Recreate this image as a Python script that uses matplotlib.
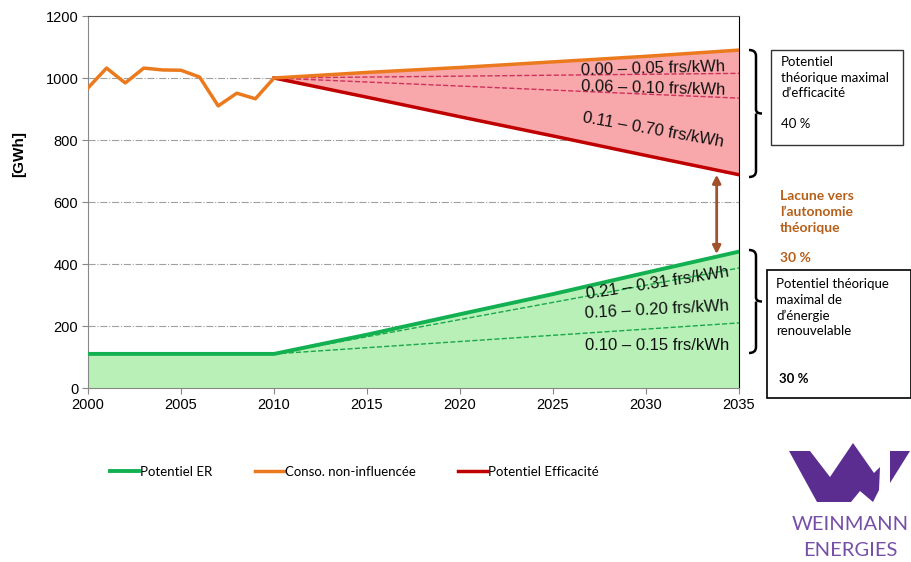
import matplotlib
matplotlib.use('Agg')
import matplotlib.pyplot as plt
from matplotlib.patches import Polygon, Rectangle
from matplotlib.path import Path
from matplotlib.patches import PathPatch

# historical consumption 2000-2010
hist_years = list(range(2000, 2011))
hist_conso = [968, 1032, 984, 1032, 1026, 1025, 1003, 910, 951, 933, 1000]

# scenario 2010-2035
proj_years = [2010, 2015, 2020, 2025, 2030, 2035]
conso_proj = [1000, 1018, 1034, 1052, 1070, 1090]
eff_proj = [1000, 938, 875, 813, 750, 688]
eff_dash1 = [1000, 1015]
eff_dash2 = [1000, 935]

er_years = [2000, 2010, 2015, 2020, 2025, 2030, 2035]
er_proj = [110, 110, 172, 238, 303, 372, 440]
er_dash1 = [110, 387]
er_dash2 = [110, 210]
dash_years = [2010, 2035]

W, H = 912, 562
fig = plt.figure(figsize=(W / 100, H / 100), dpi=100)
ax = fig.add_axes([88 / W, 1 - 388 / H, (739 - 88) / W, (388 - 16) / H])

def px(x, y):
    return (x / W, 1 - y / H)

ax.fill_between(er_years, 0, er_proj, color='#b8f0b8', lw=0, zorder=1)
ax.fill_between(proj_years, eff_proj, conso_proj, color='#f8a7ab', lw=0, zorder=1)

for yv in [200, 400, 600, 800, 1000]:
    ax.axhline(yv, color='#a0a0a0', lw=0.8, ls='-.', zorder=0.5)

ax.plot(dash_years, eff_dash1, color='#d0305a', lw=1, ls='--', zorder=2)
ax.plot(dash_years, eff_dash2, color='#d0305a', lw=1, ls='--', zorder=2)
ax.plot(dash_years, er_dash1, color='#1aa84a', lw=1, ls='--', zorder=2)
ax.plot(dash_years, er_dash2, color='#1aa84a', lw=1, ls='--', zorder=2)

l_er, = ax.plot(er_years, er_proj, color='#12b050', lw=2.8, zorder=3)
l_co, = ax.plot(hist_years + proj_years[1:], hist_conso + conso_proj[1:],
                color='#eb7a1e', lw=2.5, zorder=4)
l_ef, = ax.plot(proj_years, eff_proj, color='#c00000', lw=2.5, zorder=3)

ax.set_xlim(2000, 2035)
ax.set_ylim(0, 1200)
ax.set_xticks(range(2000, 2036, 5))
ax.set_yticks(range(0, 1201, 200))
for lab in ax.get_xticklabels() + ax.get_yticklabels():
    lab.set_family('Liberation Sans')
    lab.set_fontsize(10.5)
ax.tick_params(direction='out', length=4, color='#888888', pad=3)
for s in ['left', 'bottom']:
    ax.spines[s].set_color('#888888')
ax.spines['top'].set_color('#555555')
ax.spines['right'].set_color('black')
ax.set_ylabel('[GWh]', fontweight='bold', family='Liberation Sans', fontsize=11)
ax.yaxis.set_label_coords(-0.095, 0.63)

ann = dict(family='Liberation Sans', fontsize=12, color='#111111', zorder=5,
           ha='center', va='center')
ax.text(2030.4, 1030, '0.00 – 0.05 frs/kWh', rotation=1.5, **ann)
ax.text(2030.4, 966, '0.06 – 0.10 frs/kWh', rotation=-1.5, **ann)
ax.text(2030.4, 832, '0.11 – 0.70 frs/kWh', rotation=-10, **ann)
ax.text(2030.6, 338, '0.21 – 0.31 frs/kWh', rotation=9, **ann)
ax.text(2030.6, 253, '0.16 – 0.20 frs/kWh', rotation=3, **ann)
ax.text(2030.6, 136, '0.10 – 0.15 frs/kWh', rotation=0, **ann)

ax.annotate('', xy=(2033.8, 688), xytext=(2033.8, 432),
            arrowprops=dict(arrowstyle='<|-|>', color='#a0522d', lw=2,
                            mutation_scale=12, shrinkA=0, shrinkB=0))

leg = fig.legend([l_er, l_co, l_ef],
                 ['Potentiel ER', 'Conso. non-influencée', 'Potentiel Efficacité'],
                 loc='center left', bbox_to_anchor=px(98, 472), ncol=3,
                 frameon=False, handlelength=2.2, handletextpad=0.1,
                 columnspacing=3.2, prop={'family': 'Lato', 'size': 9.5})


def brace(x, y0, y1):
    ym = (y0 + y1) / 2
    w = 7
    verts = [px(x, y0), px(x + w, y0), px(x + w, y0 + 6),
             px(x + w, ym - 4), px(x + w, ym), px(x + w + 6, ym),
             px(x + w, ym), px(x + w, ym + 4),
             px(x + w, y1 - 6), px(x + w, y1), px(x, y1)]
    codes = [Path.MOVETO, Path.CURVE3, Path.CURVE3,
             Path.LINETO, Path.CURVE3, Path.CURVE3,
             Path.MOVETO, Path.LINETO,
             Path.LINETO, Path.CURVE3, Path.CURVE3]
    fig.add_artist(PathPatch(Path(verts, codes), transform=fig.transFigure,
                             fill=False, lw=1.8, color='black'))


brace(749, 50, 177)
brace(749, 250, 353)

bx0, by0 = px(771, 145)
fig.add_artist(Rectangle((bx0, by0), 132 / W, 95 / H, transform=fig.transFigure,
                         fill=False, lw=1, ec='#333333'))
fig.text(*px(781, 56), 'Potentiel\nthéorique maximal\nd’efficacité\n\n40 %',
         family='Lato', fontsize=9.5, va='top', ha='left', linespacing=1.35)

bx0, by0 = px(767, 398)
fig.add_artist(Rectangle((bx0, by0), 144 / W, 128 / H, transform=fig.transFigure,
                         fill=False, lw=1.2, ec='black'))
fig.text(*px(776, 278), 'Potentiel théorique\nmaximal de\nd’énergie\nrenouvelable',
         family='Lato', fontsize=9.5, va='top', ha='left', linespacing=1.35)
fig.text(*px(779, 379), '30 %', family='Lato', fontsize=9.5, fontweight='bold',
         va='center', ha='left')

fig.text(*px(780, 190), 'Lacune vers\nl’autonomie\nthéorique', family='Lato',
         fontsize=10, fontweight='bold', color='#b5601a', va='top', ha='left',
         linespacing=1.4)
fig.text(*px(780, 258), '30 %', family='Lato', fontsize=10, fontweight='bold',
         color='#b5601a', va='center', ha='left')

# logo
purple = '#5c2d91'
logo_main = [(789, 451), (810, 451), (830, 477), (853, 443), (874, 473),
             (880, 467), (879, 490), (873, 502), (860, 491), (851, 502), (817, 502)]
logo_slash = [(890, 451), (910, 451), (890, 483)]
fig.add_artist(Polygon([px(*p) for p in logo_main], closed=True,
                       transform=fig.transFigure, color=purple, lw=0))
fig.add_artist(Polygon([px(*p) for p in logo_slash], closed=True,
                       transform=fig.transFigure, color=purple, lw=0))
fig.text(*px(850, 525), 'WEINMANN', family='Lato', fontsize=14.5,
         color='#7650a6', ha='center', va='center')
fig.text(*px(850, 550), 'ENERGIES', family='Lato', fontsize=14.5,
         color='#7650a6', ha='center', va='center')

fig.savefig('out.png', dpi=100)
